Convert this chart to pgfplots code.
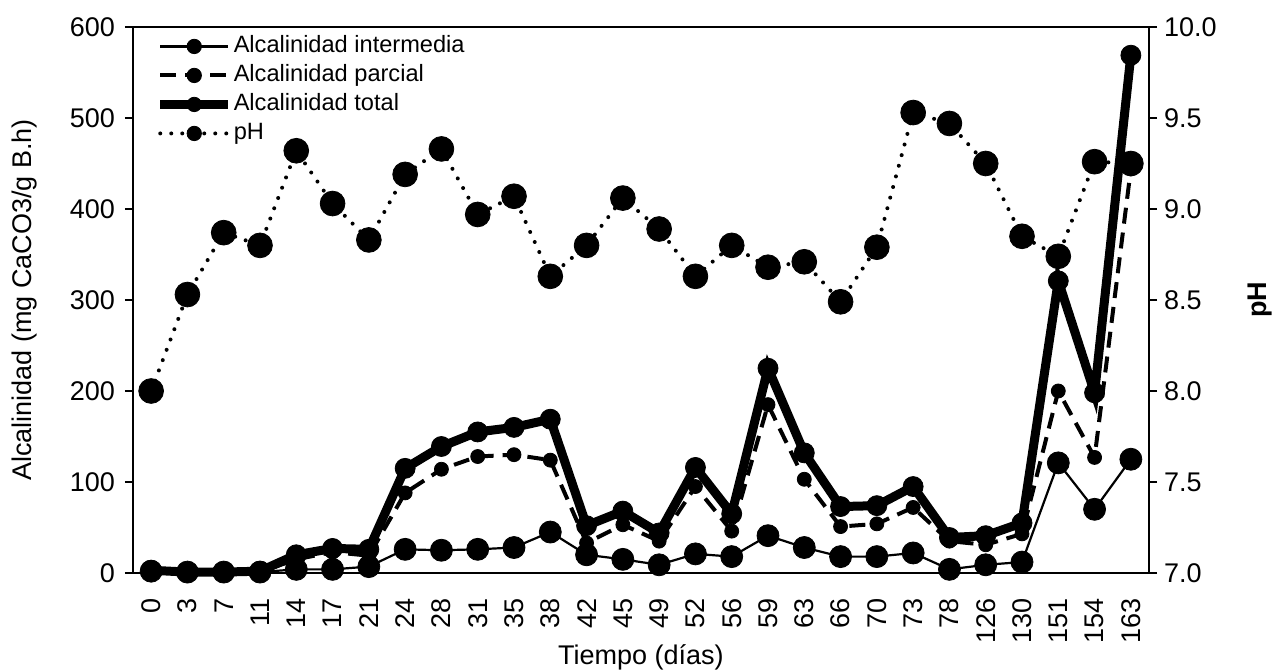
\documentclass[border=0pt]{standalone}
\usepackage{fontspec}
\setmainfont{Liberation Sans}
\usepackage{pgfplots}
\pgfplotsset{compat=1.18}
\usepackage{pgfplotstable}

\pgfplotstableread{
x I P T pH
0 2 1 3 8.00
1 1 0 1 8.53
2 1 0 1 8.87
3 1 1 2 8.80
4 4 15 20 9.32
5 4 23 27 9.03
6 7 19 26 8.83
7 26 88 115 9.19
8 25 114 139 9.33
9 26 128 155 8.97
10 28 130 160 9.07
11 45 124 169 8.63
12 20 33 52 8.80
13 15 53 68 9.06
14 9 35 44 8.89
15 21 95 116 8.63
16 18 46 65 8.80
17 41 185 225 8.68
18 28 103 132 8.71
19 18 51 73 8.49
20 18 54 74 8.79
21 22 72 95 9.53
22 4 35 39 9.47
23 9 31 41 9.25
24 12 43 55 8.85
25 121 200 321 8.74
26 70 127 198 9.26
27 125 444 569 9.25
}\datatable

\begin{document}
\begin{tikzpicture}
\path[use as bounding box] (-66.5pt,-49.5pt) rectangle (570.5pt,286.5pt);
\pgfplotsset{
  common/.style={
    width=508pt, height=273pt, scale only axis,
    at={(0pt,0pt)}, anchor=south west,
    xmin=-0.5, xmax=27.5, clip=false,
    /pgf/number format/assume math mode=true,
    tick label style={font=\fontsize{13.5}{16}\selectfont},
    axis line style={line width=0.8pt},
    every tick/.style={line width=0.8pt, black},
    tick align=outside,
    major tick length=4pt,
  },
  mylegend/.style={legend image code/.code={
    \draw[mark repeat=2, mark phase=2, ##1] plot coordinates {(0pt,0pt) (17pt,0pt) (34pt,0pt)};}},
  sInt/.style={black, line width=1.1pt, mark=*, mark options={solid, fill=black, line width=0.4pt}},
  sPar/.style={black, line width=2pt, dash pattern=on 8pt off 4.5pt, mark=*, mark options={solid, fill=black, line width=0.4pt}},
  sTot/.style={black, line width=4.5pt, mark=*, mark options={solid, fill=black, line width=0.4pt}},
  sPH/.style={black, line width=2pt, line cap=round, dash pattern=on 0pt off 5.5pt, mark=*, mark options={solid, fill=black, line width=0.4pt}},
}
\begin{axis}[common,
  ymin=0, ymax=600, ytick={0,100,...,600}, ytick pos=left,
  yticklabel style={xshift=-1.5pt},
  xtick={0,...,27},
  xticklabels={0,3,7,11,14,17,21,24,28,31,35,38,42,45,49,52,56,59,63,66,70,73,78,126,130,151,154,163},
  x tick label style={rotate=90, anchor=east, xshift=-5pt},
  xtick style={draw=none},
  xlabel={Tiempo (días)},
  ylabel={Alcalinidad (mg CaCO3/g B.h)},
  every axis x label/.style={at={(axis description cs:0.5,-0.154)}, anchor=center, font=\fontsize{13.5}{16}\selectfont},
  every axis y label/.style={at={(axis description cs:-0.1065,0.5)}, rotate=90, anchor=center, font=\fontsize{13.5}{16}\selectfont},
  legend style={at={(axis description cs:0.022,0.988)}, anchor=north west,
    draw=none, fill=none, font=\fontsize{11.8}{13}\selectfont,
    row sep=2pt, inner sep=0pt,
    nodes={inner sep=0.5pt, text height=9pt, text depth=2.5pt}},
  legend cell align=left,
]
\addlegendimage{sInt, mylegend, mark size=3.6pt}
\addlegendentry{Alcalinidad intermedia}
\addlegendimage{sPar, mylegend, mark size=3.6pt}
\addlegendentry{Alcalinidad parcial}
\addlegendimage{sTot, mylegend, mark size=3.6pt}
\addlegendentry{Alcalinidad total}
\addlegendimage{sPH, mylegend, mark size=3.6pt}
\addlegendentry{pH}
\addplot[sInt, mark size=5.5pt, forget plot] table[x=x, y=I] {\datatable};
\addplot[sPar, mark size=3.5pt, forget plot] table[x=x, y=P] {\datatable};
\addplot[sTot, mark size=5pt, forget plot] table[x=x, y=T] {\datatable};
\end{axis}
\begin{axis}[common,
  ymin=7, ymax=10, ytick={7,7.5,...,10},
  axis x line=none, axis y line*=right,
  yticklabel style={/pgf/number format/.cd, fixed, fixed zerofill, precision=1},
  ylabel={\textbf{pH}},
  every axis y label/.style={at={(axis description cs:1.1095,0.5)}, rotate=90, anchor=center, font=\fontsize{13.5}{16}\selectfont},
]
\addplot[sPH, mark size=6.2pt] table[x=x, y=pH] {\datatable};
\end{axis}
\end{tikzpicture}
\end{document}
